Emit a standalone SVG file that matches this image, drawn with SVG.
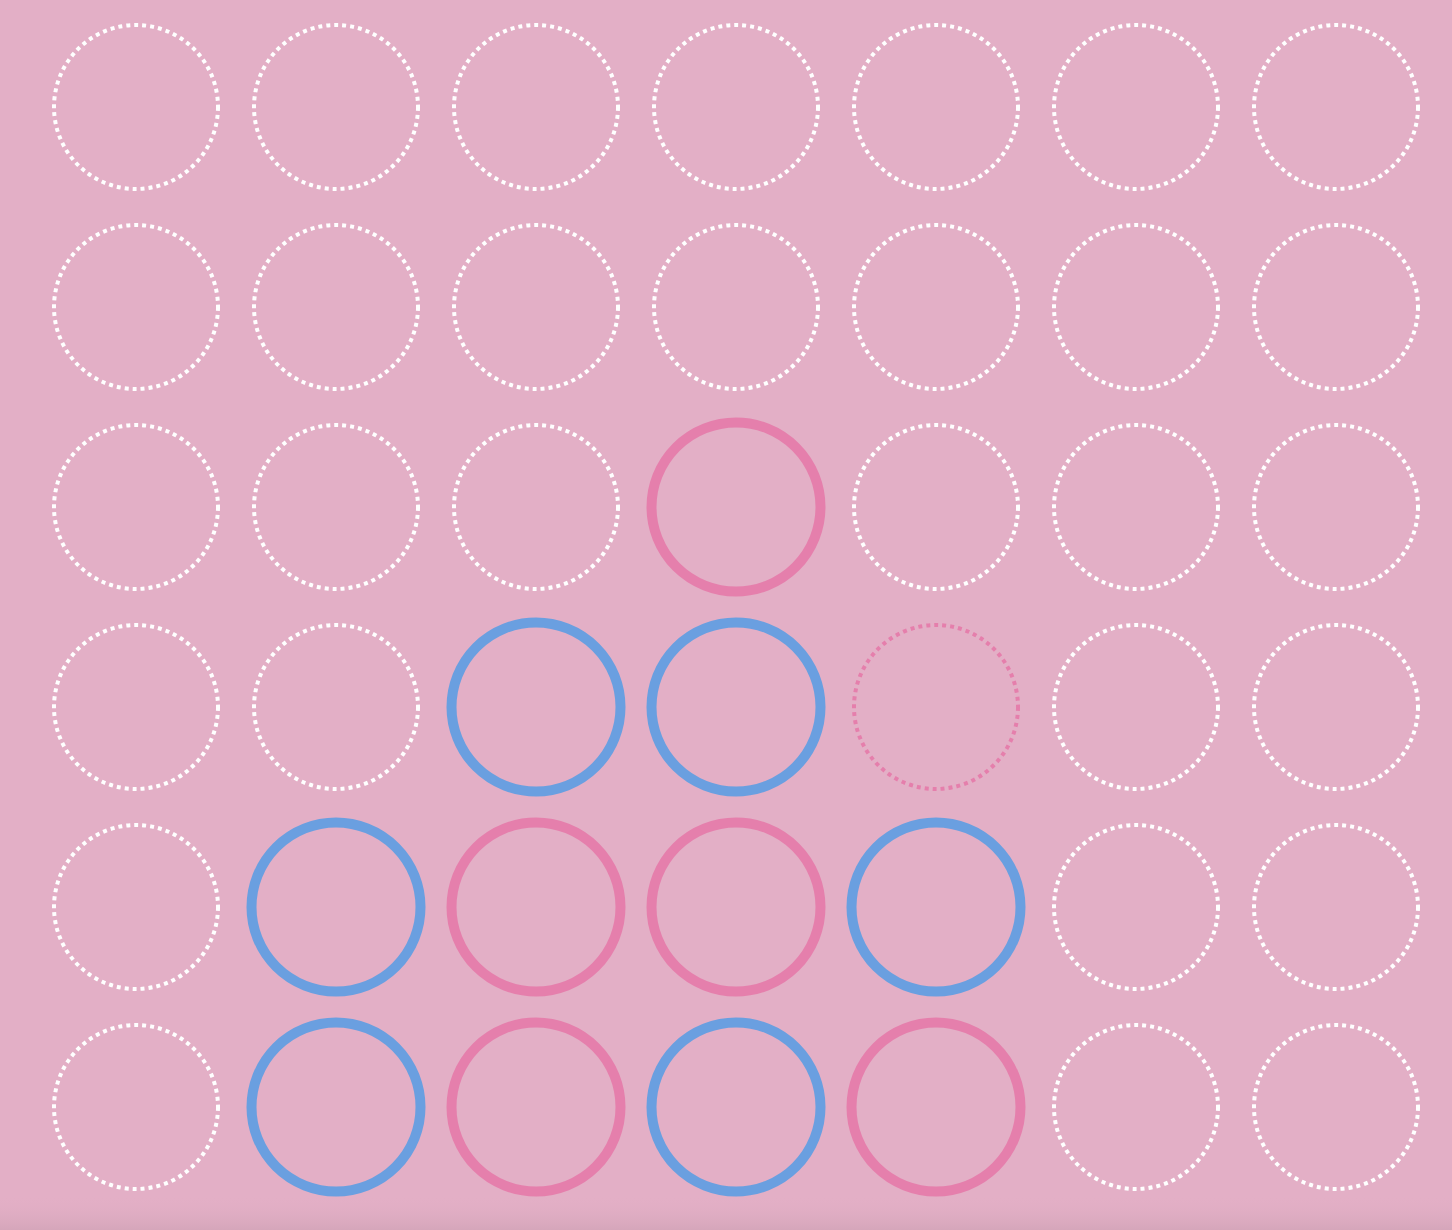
<svg xmlns="http://www.w3.org/2000/svg" width="1452" height="1230" viewBox="0 0 1452 1230">
<defs>
<linearGradient id="bottom" x1="0" y1="0" x2="0" y2="1">
<stop offset="0" stop-color="#e3afc6" stop-opacity="0"/>
<stop offset="1" stop-color="#d5a6ba"/>
</linearGradient>
<style>
.empty{fill:none;stroke:#ffffff;stroke-width:4;stroke-dasharray:4 4}
.ghost{fill:none;stroke:#e57fac;stroke-width:4;stroke-dasharray:4 4}
.p{fill:none;stroke:#e57fac;stroke-width:10}
.b{fill:none;stroke:#6a9fe0;stroke-width:10}
</style>
</defs>
<rect width="1452" height="1230" fill="#e3afc6"/>
<rect y="1195" width="1452" height="35" fill="url(#bottom)"/>
<g id="row0">
<circle class="empty" cx="136" cy="107" r="82"/><circle class="empty" cx="336" cy="107" r="82"/><circle class="empty" cx="536" cy="107" r="82"/><circle class="empty" cx="736" cy="107" r="82"/><circle class="empty" cx="936" cy="107" r="82"/><circle class="empty" cx="1136" cy="107" r="82"/><circle class="empty" cx="1336" cy="107" r="82"/>
</g>
<g id="row1">
<circle class="empty" cx="136" cy="307" r="82"/><circle class="empty" cx="336" cy="307" r="82"/><circle class="empty" cx="536" cy="307" r="82"/><circle class="empty" cx="736" cy="307" r="82"/><circle class="empty" cx="936" cy="307" r="82"/><circle class="empty" cx="1136" cy="307" r="82"/><circle class="empty" cx="1336" cy="307" r="82"/>
</g>
<g id="row2">
<circle class="empty" cx="136" cy="507" r="82"/><circle class="empty" cx="336" cy="507" r="82"/><circle class="empty" cx="536" cy="507" r="82"/><circle class="p" cx="736" cy="507" r="84.5"/><circle class="empty" cx="936" cy="507" r="82"/><circle class="empty" cx="1136" cy="507" r="82"/><circle class="empty" cx="1336" cy="507" r="82"/>
</g>
<g id="row3">
<circle class="empty" cx="136" cy="707" r="82"/><circle class="empty" cx="336" cy="707" r="82"/><circle class="b" cx="536" cy="707" r="84.5"/><circle class="b" cx="736" cy="707" r="84.5"/><circle class="ghost" cx="936" cy="707" r="82"/><circle class="empty" cx="1136" cy="707" r="82"/><circle class="empty" cx="1336" cy="707" r="82"/>
</g>
<g id="row4">
<circle class="empty" cx="136" cy="907" r="82"/><circle class="b" cx="336" cy="907" r="84.5"/><circle class="p" cx="536" cy="907" r="84.5"/><circle class="p" cx="736" cy="907" r="84.5"/><circle class="b" cx="936" cy="907" r="84.5"/><circle class="empty" cx="1136" cy="907" r="82"/><circle class="empty" cx="1336" cy="907" r="82"/>
</g>
<g id="row5">
<circle class="empty" cx="136" cy="1107" r="82"/><circle class="b" cx="336" cy="1107" r="84.5"/><circle class="p" cx="536" cy="1107" r="84.5"/><circle class="b" cx="736" cy="1107" r="84.5"/><circle class="p" cx="936" cy="1107" r="84.5"/><circle class="empty" cx="1136" cy="1107" r="82"/><circle class="empty" cx="1336" cy="1107" r="82"/>
</g>
<g id="connectors"/>
</svg>
